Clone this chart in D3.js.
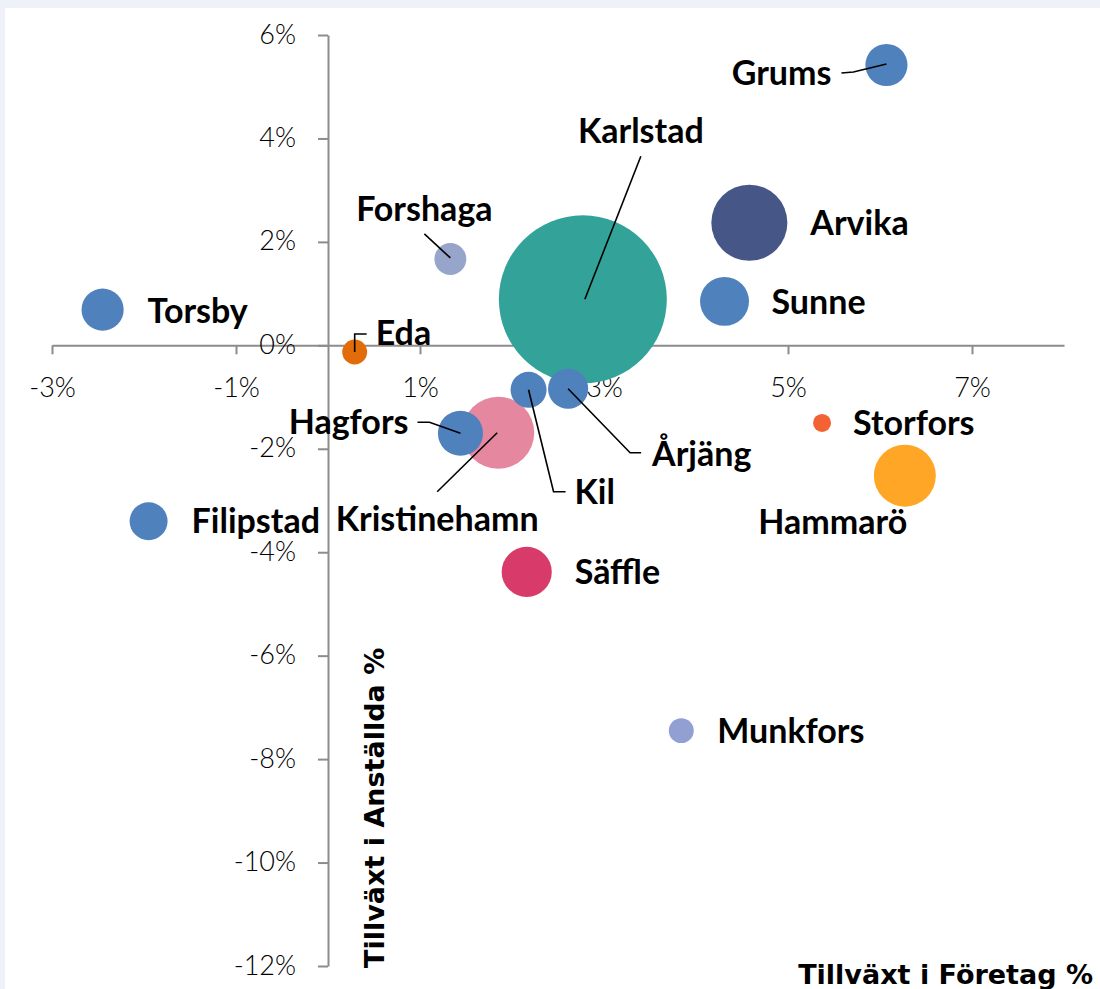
<!DOCTYPE html>
<html>
<head>
<meta charset="utf-8">
<script src="https://cdn.jsdelivr.net/npm/d3@7"></script>
<style>
  html, body { margin: 0; padding: 0; background: #eef2f8; }
  svg { display: block; }
  .tick text { font-family: Lato, sans-serif; font-weight: 300; font-size: 27px; fill: #000; }
  .axis path, .axis line { stroke: #8c8c8c; stroke-width: 2; }
  .lbl { font-family: Lato, sans-serif; font-weight: 700; font-size: 34px; fill: #000; }
  .title { font-family: 'DejaVu Sans', sans-serif; font-weight: 700; font-size: 27px; fill: #000; }
</style>
</head>
<body>
<script>
const kommuner = ['Grums', 'Karlstad', 'Arvika', 'Sunne', 'Torsby', 'Forshaga', 'Eda', 'Kil',
  'Årjäng', 'Hagfors', 'Kristinehamn', 'Storfors', 'Hammarö', 'Filipstad', 'Säffle', 'Munkfors'];
const foretag = [6.07, 2.77, 4.58, 4.31, -2.45, 1.33, 0.29, 2.18, 2.61, 1.44, 1.85, 5.37, 6.27, -1.95, 2.16, 3.84];
const anstallda = [5.42, 0.89, 2.37, 0.85, 0.69, 1.67, -0.13, -0.86, -0.84, -1.70, -1.69, -1.50, -2.52, -3.40, -4.38, -7.45];
const storlek = [6.3, 100, 20.5, 8.5, 6.3, 3.6, 2.2, 4.6, 5.7, 7.2, 18.4, 1.15, 13.6, 5.1, 8.9, 2.2];
const xTicks = [-3, -1, 1, 3, 5, 7];
const yTicks = [6, 4, 2, 0, -2, -4, -6, -8, -10, -12];

const colors = {
  Grums: '#4f81bd', Karlstad: '#33a39a', Arvika: '#465686', Sunne: '#4f81bd', Torsby: '#4f81bd',
  Forshaga: '#97a5cb', Eda: '#e36c0a', Kil: '#4f81bd', 'Årjäng': '#4f81bd', Hagfors: '#4f81bd',
  Kristinehamn: '#e687a0', Storfors: '#f26232', 'Hammarö': '#ffa626', Filipstad: '#4f81bd',
  'Säffle': '#d83a69', Munkfors: '#929fd3'
};

// label placement relative to the bubble centre (px), plus leader lines
const layout = {
  Grums: { dx: -55, dy: 8, a: 'end', lead: [[-45, 8], [-33, 7], [0, -1]] },
  Karlstad: { dx: 58, dy: -169, a: 'middle', lead: [[58, -143], [2, 0]] },
  Arvika: { dx: 61, dy: 0, a: 'start' },
  Sunne: { dx: 47, dy: 0, a: 'start' },
  Torsby: { dx: 45, dy: 1, a: 'start' },
  Forshaga: { dx: -26, dy: -50, a: 'middle', lead: [[-26, -25], [0, -1]] },
  Eda: { dx: 21, dy: -19, a: 'start', lead: [[0, 0], [0, -18], [12, -18]] },
  Kil: { dx: 46, dy: 102, a: 'start', lead: [[0, 0], [25, 102], [37, 102]] },
  'Årjäng': { dx: 84, dy: 65, a: 'start', lead: [[0, 0], [62, 64], [73, 64]] },
  Hagfors: { dx: -52, dy: -12, a: 'end', lead: [[-43, -11], [-31, -11], [0, 0]] },
  Kristinehamn: { dx: -61, dy: 86, a: 'middle', lead: [[-61, 59], [-1, 0]] },
  Storfors: { dx: 31, dy: 0, a: 'start' },
  'Hammarö': { dx: -72, dy: 46, a: 'middle' },
  Filipstad: { dx: 43, dy: 0, a: 'start' },
  'Säffle': { dx: 48, dy: 0, a: 'start' },
  Munkfors: { dx: 36, dy: 0, a: 'start' }
};

const width = 1100, height = 989;

const data = kommuner.map((k, i) => ({ name: k, x: foretag[i], y: anstallda[i], s: storlek[i] }));

const x = d3.scaleLinear().domain([-3, 8]).range([52, 1064]);
const y = d3.scaleLinear().domain([-12, 6]).range([966, 35]);
const r = d3.scaleSqrt().domain([0, 100]).range([0, 84]);

const svg = d3.select('body').append('svg')
    .attr('width', width)
    .attr('height', height);

svg.append('rect')
    .attr('x', 5).attr('y', 8)
    .attr('width', width - 5).attr('height', height - 8)
    .attr('fill', '#fff');

svg.append('g')
    .attr('class', 'axis')
    .attr('transform', `translate(0,${y(0)})`)
    .call(d3.axisBottom(x).tickValues(xTicks).tickFormat((d) => d + '%')
      .tickSize(9).tickSizeOuter(0).tickPadding(24));

svg.append('g')
    .attr('class', 'axis')
    .attr('transform', `translate(${x(0)},0)`)
    .call(d3.axisLeft(y).tickValues(yTicks).tickFormat((d) => d + '%')
      .tickSize(10).tickSizeOuter(0).tickPadding(22))
    .selectAll('.tick text').attr('dy', '0.3em');

svg.selectAll('.domain').attr('fill', 'none');

// bubbles, largest first so small ones sit on top
svg.append('g').selectAll('circle')
    .data(data.slice().sort((a, b) => b.s - a.s))
  .enter().append('circle')
    .attr('cx', (d) => x(d.x))
    .attr('cy', (d) => y(d.y))
    .attr('r', (d) => r(d.s))
    .attr('fill', (d) => colors[d.name]);

const line = d3.line();
svg.append('g').selectAll('path')
    .data(data.filter((d) => layout[d.name].lead))
  .enter().append('path')
    .attr('d', (d) => line(layout[d.name].lead.map((p) => [x(d.x) + p[0], y(d.y) + p[1]])))
    .attr('fill', 'none')
    .attr('stroke', '#000')
    .attr('stroke-width', 1.6);

svg.append('g').selectAll('text')
    .data(data)
  .enter().append('text')
    .attr('class', 'lbl')
    .attr('x', (d) => x(d.x) + layout[d.name].dx)
    .attr('y', (d) => y(d.y) + layout[d.name].dy)
    .attr('dy', '0.36em')
    .attr('text-anchor', (d) => layout[d.name].a)
    .text((d) => d.name);

svg.append('text')
    .attr('class', 'title')
    .attr('x', 1093).attr('y', 984)
    .attr('text-anchor', 'end')
    .text('Tillväxt i Företag %');

svg.append('text')
    .attr('class', 'title')
    .attr('transform', 'translate(384,968) rotate(-90)')
    .text('Tillväxt i Anställda %');
</script>
</body>
</html>
